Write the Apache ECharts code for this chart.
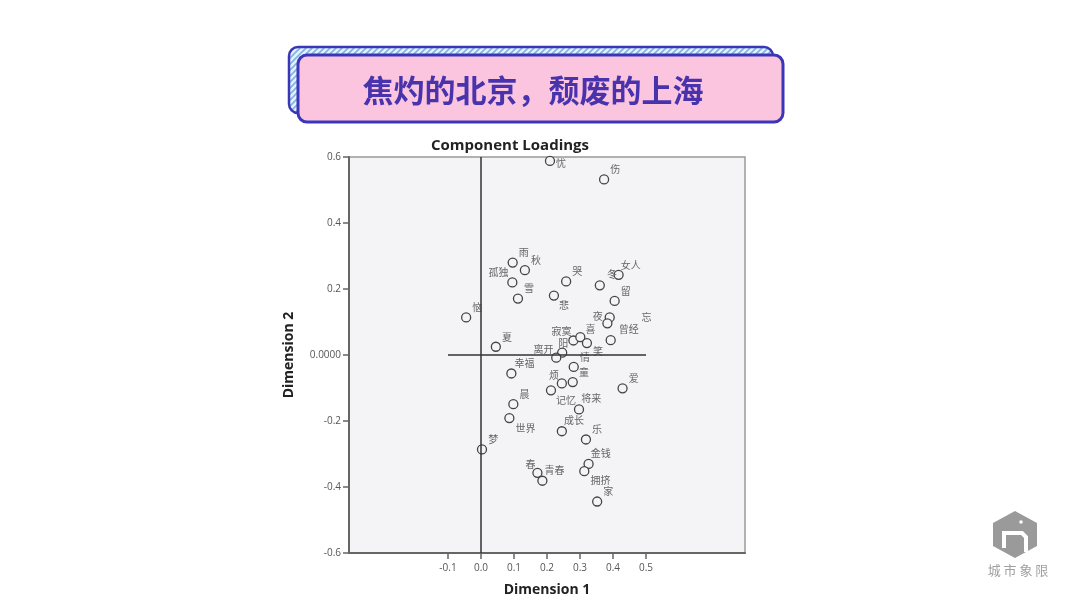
<!DOCTYPE html>
<html>
<head>
<meta charset="utf-8">
<script src="https://cdn.jsdelivr.net/npm/echarts@6/dist/echarts.min.js"></script>
<style>
  html, body { margin: 0; padding: 0; background: #fff; }
  #chart { width: 1080px; height: 608px; }
</style>
</head>
<body>
<div id="chart"></div>
<script>
// 词语及其两个维度的载荷
var words = ['忧', '伤', '雨', '秋', '孤独', '雪', '哭', '悲', '冬', '女人',
  '留', '恼', '夜', '忘', '曾经', '夏', '寂寞', '喜', '笑', '阳',
  '离开', '情', '幸福', '烦', '童', '记忆', '爱', '晨', '将来', '世界',
  '成长', '乐', '梦', '金钱', '春', '青春', '拥挤', '家'];
var dim1 = [0.209, 0.373, 0.096, 0.133, 0.095, 0.112, 0.258, 0.221, 0.360, 0.417,
  0.405, -0.045, 0.390, 0.383, 0.393, 0.045, 0.280, 0.301, 0.321, 0.246,
  0.228, 0.281, 0.092, 0.245, 0.278, 0.212, 0.429, 0.098, 0.297, 0.086,
  0.245, 0.318, 0.003, 0.326, 0.171, 0.186, 0.313, 0.352];
var dim2 = [0.588, 0.532, 0.280, 0.257, 0.220, 0.171, 0.223, 0.180, 0.211, 0.243,
  0.164, 0.114, 0.114, 0.096, 0.045, 0.025, 0.044, 0.054, 0.036, 0.007,
  -0.008, -0.036, -0.056, -0.086, -0.082, -0.107, -0.101, -0.149, -0.165, -0.191,
  -0.231, -0.256, -0.286, -0.330, -0.357, -0.381, -0.352, -0.444];
var xTicks = [-0.1, 0, 0.1, 0.2, 0.3, 0.4, 0.5];

// 标签位置微调（默认在点的右上方）
var labelShift = {
  '忧': [-4, 2], '悲': [-5, 10], '孤独': [-34, -10], '女人': [-8, -10],
  '冬': [-3, -11], '夜': [-27, -1], '忘': [24, -6], '曾经': [-2, -11],
  '寂寞': [-32, -9], '喜': [-5, -8], '笑': [-4, 8], '阳': [-14, -9],
  '离开': [-33, -8], '幸福': [-7, -10], '烦': [-23, -8], '记忆': [-5, 10],
  '将来': [-8, -11], '世界': [-4, 10], '成长': [-8, -11], '金钱': [-8, -11],
  '春': [-22, -9], '青春': [-8, -11], '拥挤': [-4, 9]
};

var points = [];
for (var i = 0; i < words.length; i++) {
  points.push({
    name: words[i],
    value: [dim1[i], dim2[i]],
    label: { offset: labelShift[words[i]] || [-4, -10] }
  });
}

// 标题框背景的斜纹
var stripe = document.createElement('canvas');
stripe.width = 6; stripe.height = 6;
var sc = stripe.getContext('2d');
sc.fillStyle = '#e6f1fb';
sc.fillRect(0, 0, 6, 6);
sc.strokeStyle = '#7fb3e6';
sc.lineWidth = 1.6;
sc.beginPath();
sc.moveTo(-1, 7); sc.lineTo(7, -1);
sc.moveTo(-1, 1); sc.lineTo(1, -1);
sc.moveTo(5, 7); sc.lineTo(7, 5);
sc.stroke();

var myChart = echarts.init(document.getElementById('chart'));
var option = {
  backgroundColor: '#ffffff',
  animation: false,
  grid: {
    left: 349, top: 157, width: 396, height: 396,
    show: true,
    backgroundColor: '#f4f4f6',
    borderColor: '#999',
    borderWidth: 1.5
  },
  xAxis: {
    type: 'value',
    min: -0.4, max: 0.8, interval: 0.1,
    name: 'Dimension 1',
    nameLocation: 'middle',
    nameGap: 30,
    nameTextStyle: { fontSize: 14, fontWeight: 'bold', color: '#222', fontFamily: 'Open Sans' },
    axisLine: { onZero: false, lineStyle: { color: '#666', width: 2 } },
    axisTick: { customValues: xTicks, length: 6, lineStyle: { color: '#666', width: 1.5 } },
    axisLabel: {
      customValues: xTicks,
      margin: 10,
      fontSize: 10, color: '#555', fontFamily: 'Open Sans',
      formatter: function (v) { return v.toFixed(1); }
    },
    splitLine: { show: false }
  },
  yAxis: {
    type: 'value',
    min: -0.6, max: 0.6, interval: 0.2,
    name: 'Dimension 2',
    nameLocation: 'middle',
    nameGap: 53,
    nameRotate: 90,
    nameTextStyle: { fontSize: 14, fontWeight: 'bold', color: '#222', fontFamily: 'Open Sans' },
    axisLine: { onZero: false, lineStyle: { color: '#666', width: 2 } },
    axisTick: { length: 6, lineStyle: { color: '#666', width: 1.5 } },
    axisLabel: {
      margin: 8,
      fontSize: 10, color: '#555', fontFamily: 'Open Sans',
      formatter: function (v) {
        if (Math.abs(v) < 1e-9) return '0.0000';
        return v.toFixed(1);
      }
    },
    splitLine: { show: false }
  },
  series: [{
    type: 'scatter',
    data: points,
    symbol: 'circle',
    symbolSize: 9,
    itemStyle: { color: '#f4f4f6', borderColor: '#444', borderWidth: 1.3, opacity: 1 },
    label: {
      show: true,
      position: 'right',
      distance: 5,
      formatter: '{b}',
      fontSize: 10,
      color: '#666',
      fontFamily: 'Noto Sans CJK SC'
    },
    markLine: {
      silent: true,
      symbol: 'none',
      label: { show: false },
      lineStyle: { color: '#333', width: 1.5, type: 'solid' },
      data: [
        [{ coord: [0, -0.6] }, { coord: [0, 0.6] }],
        [{ coord: [-0.1, 0] }, { coord: [0.5, 0] }]
      ]
    },
    z: 3
  }],
  graphic: [
    // 标题框
    {
      type: 'rect',
      shape: { x: 289, y: 47, width: 484, height: 66, r: 9 },
      style: { fill: { type: 'pattern', image: stripe, repeat: 'repeat' }, stroke: '#3b36b8', lineWidth: 2.5 }
    },
    {
      type: 'rect',
      shape: { x: 298, y: 55, width: 485, height: 67, r: 9 },
      style: { fill: '#fbc4df', stroke: '#3b36b8', lineWidth: 3 }
    },
    {
      type: 'text',
      style: {
        x: 533, y: 90, text: '焦灼的北京，颓废的上海',
        textAlign: 'center', textVerticalAlign: 'middle',
        font: 'bold 31px "Noto Sans CJK SC"', fill: '#4833ad'
      }
    },
    // 图标题
    {
      type: 'text',
      style: {
        x: 510, y: 146, text: 'Component Loadings',
        textAlign: 'center', textVerticalAlign: 'middle',
        font: 'bold 15px "Open Sans"', fill: '#222'
      }
    },
    // 右下角标志
    {
      type: 'polygon',
      shape: { points: [[1015, 511], [1037, 523], [1037, 546], [1015, 558], [993, 546], [993, 523]] },
      style: { fill: '#9a9a9a' }
    },
    {
      type: 'polyline',
      shape: { points: [[1004, 548], [1004, 533], [1022, 533], [1026, 537], [1026, 552]] },
      style: { stroke: '#fff', lineWidth: 4, fill: null }
    },
    {
      type: 'circle',
      shape: { cx: 1021, cy: 522, r: 1.8 },
      style: { fill: '#fff' }
    },
    {
      type: 'text',
      style: {
        x: 1018, y: 570, text: '城 市 象 限',
        textAlign: 'center', textVerticalAlign: 'middle',
        font: '13px "Noto Sans CJK SC"', fill: '#a0a0a0'
      }
    }
  ]
};
myChart.setOption(option);
</script>
</body>
</html>
